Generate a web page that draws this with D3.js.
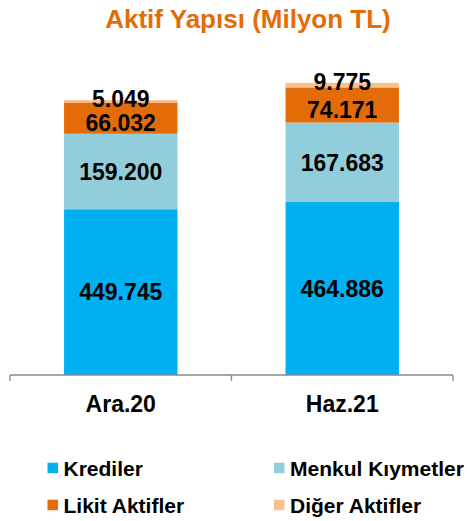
<!DOCTYPE html>
<html><head><meta charset="utf-8">
<script src="https://cdn.jsdelivr.net/npm/d3@7"></script>
<style>body{margin:0;background:#fff}svg{display:block}text{font-family:"Liberation Sans",Arial,sans-serif;font-weight:bold}</style>
</head><body>
<svg id="c" width="467" height="521"></svg>
<script>
const categories = ["Ara.20", "Haz.21"];
const seriesNames = ["Krediler", "Menkul Kıymetler", "Likit Aktifler", "Diğer Aktifler"];
const krediler = [449745, 464886];
const menkul = [159200, 167683];
const likit = [66032, 74171];
const diger = [5049, 9775];
const colors = ["#00B0F0", "#92CDDC", "#E36C09", "#FAC090"];
const labelOffsets = [0, 0, 5, -3];
const axisMin = 100000, axisMax = 800000;

const svg = d3.select("#c");
const x = d3.scaleBand().domain(categories).range([10, 453]).paddingInner(0.488).paddingOuter(0.244);
const y = d3.scaleLinear().domain([axisMin, axisMax]).range([375, 43.2]);
const fmt = v => d3.format(",")(v).replace(/,/g, ".");

const rows = categories.map((c, i) => ({cat: c, s0: krediler[i], s1: menkul[i], s2: likit[i], s3: diger[i]}));
const stack = d3.stack().keys(["s0", "s1", "s2", "s3"])(rows);

svg.append("text").attr("x", 248).attr("y", 27.5).attr("text-anchor", "middle")
  .attr("font-size", 26).attr("fill", "#E36C09").text("Aktif Yapısı (Milyon TL)");

stack.forEach((layer, k) => {
  svg.append("g").selectAll("rect").data(layer).join("rect")
    .attr("x", d => x(d.data.cat)).attr("width", x.bandwidth())
    .attr("y", d => y(Math.max(d[1], axisMin)))
    .attr("height", d => y(Math.max(d[0], axisMin)) - y(Math.max(d[1], axisMin)))
    .attr("fill", colors[k]);
});
stack.forEach((layer, k) => {
  svg.append("g").selectAll("text").data(layer).join("text")
    .attr("x", d => x(d.data.cat) + x.bandwidth() / 2)
    .attr("y", d => (y(Math.max(d[0], axisMin)) + y(d[1])) / 2 + labelOffsets[k])
    .attr("dy", "0.36em").attr("text-anchor", "middle").attr("font-size", 23).attr("fill", "#000")
    .text(d => fmt(d[1] - d[0]));
});

// axis
const r = x.range();
const ax = svg.append("g").attr("stroke", "#898989").attr("stroke-width", 1.3);
ax.append("line").attr("x1", r[0]).attr("x2", r[1]).attr("y1", 375).attr("y2", 375);
const tickXs = [r[0], (x(categories[0]) + x.bandwidth() + x(categories[1])) / 2, r[1]];
tickXs.forEach(t => ax.append("line").attr("x1", t).attr("x2", t).attr("y1", 375).attr("y2", 381));
categories.forEach(c => svg.append("text").attr("x", x(c) + x.bandwidth() / 2).attr("y", 411.5)
  .attr("text-anchor", "middle").attr("font-size", 23).attr("fill", "#000").text(c));

// legend
const legPos = [[47.5, 476], [274, 476], [47.5, 513], [274, 513]];
seriesNames.forEach((n, i) => {
  const [lx, ly] = legPos[i];
  svg.append("rect").attr("x", lx).attr("y", ly - 13.3).attr("width", 10.5).attr("height", 10.5).attr("fill", colors[i]);
  svg.append("text").attr("x", lx + 16).attr("y", ly).attr("font-size", 21).attr("fill", "#000").text(n);
});
</script>
</body></html>
